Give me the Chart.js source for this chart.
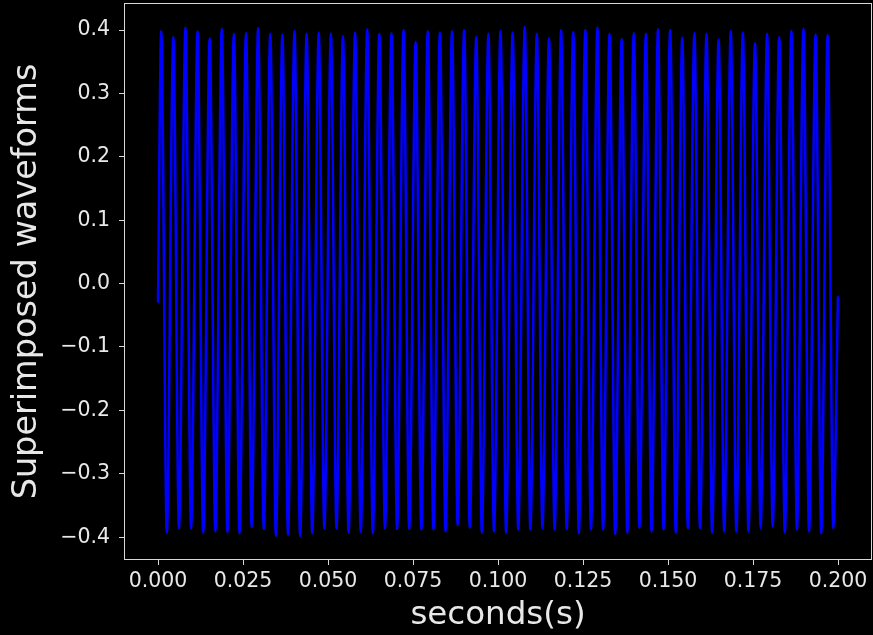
<!DOCTYPE html>
<html>
<head>
<meta charset="utf-8">
<script src="https://cdn.jsdelivr.net/npm/chart.js@4.4.1/dist/chart.umd.min.js"></script>
<style>
  html, body { margin: 0; padding: 0; background: #000; }
  #wrap { width: 873px; height: 635px; position: relative; }
</style>
</head>
<body>
<div id="wrap"><canvas id="c" width="873" height="635"></canvas></div>
<script>
// ---- data ----
const startPoint = { t: 0.0, v: -0.03 };
const endPoint = { t: 0.2, v: -0.02 };

const peakTimes = [0.00095,0.00451,0.00808,0.01164,0.01521,0.01877,0.02233,0.02590,0.02946,0.03303,
  0.03659,0.04015,0.04372,0.04728,0.05085,0.05441,0.05797,0.06154,0.06510,0.06867,
  0.07223,0.07579,0.07936,0.08292,0.08649,0.09005,0.09361,0.09718,0.10074,0.10431,
  0.10787,0.11143,0.11500,0.11856,0.12213,0.12569,0.12925,0.13282,0.13638,0.13995,
  0.14351,0.14707,0.15064,0.15420,0.15777,0.16133,0.16489,0.16846,0.17202,0.17559,
  0.17915,0.18271,0.18628,0.18984,0.19341,0.19697];
const peakValues = [0.398,0.389,0.404,0.398,0.387,0.402,0.394,0.395,0.403,0.394,
  0.393,0.398,0.394,0.396,0.394,0.390,0.396,0.401,0.394,0.395,
  0.400,0.381,0.398,0.396,0.398,0.400,0.389,0.394,0.398,0.396,
  0.405,0.394,0.387,0.400,0.397,0.400,0.404,0.394,0.386,0.395,
  0.394,0.401,0.400,0.388,0.395,0.394,0.385,0.398,0.396,0.379,
  0.394,0.389,0.399,0.402,0.393,0.392];

const troughTimes = [0.00260,0.00616,0.00973,0.01329,0.01686,0.02042,0.02398,0.02755,0.03111,0.03468,
  0.03824,0.04180,0.04537,0.04893,0.05250,0.05606,0.05962,0.06319,0.06675,0.07032,
  0.07388,0.07744,0.08101,0.08457,0.08814,0.09170,0.09526,0.09883,0.10239,0.10596,
  0.10952,0.11308,0.11665,0.12021,0.12378,0.12734,0.13090,0.13447,0.13803,0.14160,
  0.14516,0.14872,0.15229,0.15585,0.15942,0.16298,0.16654,0.17011,0.17367,0.17724,
  0.18080,0.18436,0.18793,0.19149,0.19506,0.19862];
const troughValues = [-0.393,-0.386,-0.386,-0.393,-0.391,-0.392,-0.394,-0.384,-0.387,-0.398,
  -0.396,-0.398,-0.394,-0.386,-0.386,-0.393,-0.392,-0.394,-0.386,-0.387,
  -0.387,-0.388,-0.388,-0.391,-0.381,-0.385,-0.393,-0.391,-0.393,-0.388,
  -0.388,-0.386,-0.388,-0.387,-0.394,-0.388,-0.388,-0.395,-0.393,-0.385,
  -0.391,-0.388,-0.393,-0.386,-0.386,-0.393,-0.391,-0.391,-0.391,-0.385,
  -0.383,-0.393,-0.388,-0.391,-0.394,-0.386];

const xTicks = [0.000,0.025,0.050,0.075,0.100,0.125,0.150,0.175,0.200];
const xTickLabels = ['0.000','0.025','0.050','0.075','0.100','0.125','0.150','0.175','0.200'];
const yTicks = [-0.4,-0.3,-0.2,-0.1,0.0,0.1,0.2,0.3,0.4];
const yTickLabels = ['\u22120.4','\u22120.3','\u22120.2','\u22120.1','0.0','0.1','0.2','0.3','0.4'];

const xLabel = 'seconds(s)';
const yLabel = 'Superimposed waveforms';

// ---- build series ----
const points = [{ x: startPoint.t, y: startPoint.v }];
for (let i = 0; i < peakTimes.length; i++) {
  points.push({ x: peakTimes[i], y: peakValues[i] });
  points.push({ x: troughTimes[i], y: troughValues[i] });
}
points.push({ x: endPoint.t, y: endPoint.v });

const FG = '#e8e8e8';
const FONT = "'DejaVu Sans', sans-serif";

const framePlugin = {
  id: 'frame',
  afterDraw(chart) {
    const { ctx, chartArea: a } = chart;
    ctx.save();
    ctx.strokeStyle = '#d8d8d8';
    ctx.lineWidth = 1;
    ctx.strokeRect(Math.round(a.left) + 0.5, Math.round(a.top) + 0.5,
                   Math.round(a.right - a.left) - 1, Math.round(a.bottom - a.top) - 1);
    ctx.restore();
  }
};

new Chart(document.getElementById('c'), {
  type: 'line',
  data: {
    datasets: [{
      data: points,
      borderColor: '#0000ff',
      borderWidth: 2.5,
      pointRadius: 0,
      fill: false,
      cubicInterpolationMode: 'monotone'
    }]
  },
  options: {
    responsive: false,
    animation: false,
    events: [],
    layout: { padding: { top: 3, right: 1, left: 0, bottom: 0 } },
    plugins: { legend: { display: false }, tooltip: { enabled: false } },
    scales: {
      x: {
        type: 'linear',
        min: -0.01,
        max: 0.21,
        afterFit(scale) { scale.height = 75; scale.paddingLeft = 0; scale.paddingRight = 0; },
        afterBuildTicks(axis) { axis.ticks = xTicks.map(v => ({ value: v })); },
        grid: { display: true, drawOnChartArea: false, tickLength: 5, tickColor: '#d8d8d8', tickWidth: 1 },
        border: { display: false },
        ticks: {
          color: FG,
          font: { family: FONT, size: 20.5 },
          padding: 4,
          maxRotation: 0,
          autoSkip: false,
          callback(value) {
            const i = xTicks.findIndex(t => Math.abs(t - value) < 1e-9);
            return i >= 0 ? xTickLabels[i] : '';
          }
        },
        title: { display: true, text: xLabel, color: FG, font: { family: FONT, size: 32.5 }, padding: { top: 0, bottom: 0 } }
      },
      y: {
        type: 'linear',
        min: -0.436,
        max: 0.4426,
        afterFit(scale) { scale.width = 124; scale.paddingTop = 0; scale.paddingBottom = 0; },
        afterBuildTicks(axis) { axis.ticks = yTicks.map(v => ({ value: v })); },
        grid: { display: true, drawOnChartArea: false, tickLength: 5, tickColor: '#d8d8d8', tickWidth: 1 },
        border: { display: false },
        ticks: {
          color: FG,
          font: { family: FONT, size: 20.5 },
          padding: 9,
          autoSkip: false,
          callback(value) {
            const i = yTicks.findIndex(t => Math.abs(t - value) < 1e-9);
            return i >= 0 ? yTickLabels[i] : '';
          }
        },
        title: { display: true, text: yLabel, color: FG, font: { family: FONT, size: 33.5 }, padding: { top: 7, bottom: 0 } }
      }
    }
  },
  plugins: [framePlugin]
});
</script>
</body>
</html>
